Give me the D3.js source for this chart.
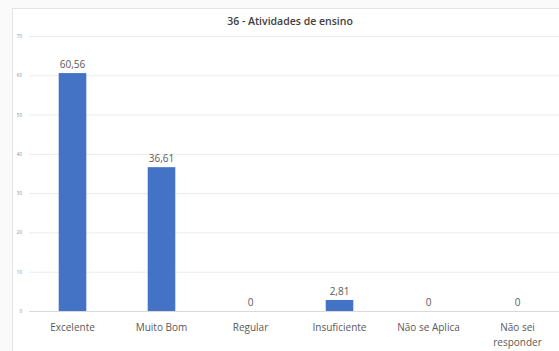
<!DOCTYPE html>
<html><head><meta charset="utf-8">
<script src="https://cdn.jsdelivr.net/npm/d3@7"></script>
<style>html,body{margin:0;padding:0;background:#fff;}svg{display:block;}</style>
</head><body>
<script>
const categories = ["Excelente","Muito Bom","Regular","Insuficiente","Não se Aplica","Não sei responder"];
const values = [60.56, 36.61, 0, 2.81, 0, 0];
const valueLabels = ["60,56","36,61","0","2,81","0","0"];
const yTicks = [0,10,20,30,40,50,60,70];
const title = "36 - Atividades de ensino";

const W = 559, H = 351;
const svg = d3.select("body").append("svg").attr("width", W).attr("height", H);
svg.append("rect").attr("x",0).attr("y",0).attr("width",W).attr("height",H).attr("fill","#fafafa");
svg.append("rect").attr("x",12.5).attr("y",8.5).attr("width",W).attr("height",H).attr("fill","#fff").attr("stroke","#e3e3e3");

const x = d3.scaleBand().domain(categories).range([28, 562]).paddingInner(0.69).paddingOuter(0.345);
const y = d3.scaleLinear().domain([0,70]).range([311, 36]);

const grid = svg.append("g");
grid.selectAll("line").data(yTicks).join("line")
  .attr("x1", 29).attr("x2", W).attr("y1", d=>y(d)+0.5).attr("y2", d=>y(d)+0.5)
  .attr("stroke", d=> d===0 ? "#d9d9d9" : "#ebebeb").attr("stroke-width",1);

const yAxis = svg.append("g").attr("transform","translate(22,0)")
  .call(d3.axisLeft(y).tickValues(yTicks).tickSize(0).tickPadding(0));
yAxis.select(".domain").remove();
yAxis.selectAll("text").attr("font-family","Open Sans, sans-serif").attr("font-size",4.5).attr("fill","#8c8c8c");

svg.append("g").selectAll("rect").data(values).join("rect")
  .attr("x",(d,i)=>x(categories[i])).attr("width",x.bandwidth())
  .attr("y",d=>y(d)).attr("height",d=>y(0)-y(d)).attr("fill","#4472C4");

svg.append("g").selectAll("text").data(values).join("text")
  .attr("x",(d,i)=>x(categories[i])+x.bandwidth()/2).attr("y",d=>y(d)-5)
  .attr("text-anchor","middle").attr("font-family","Open Sans, sans-serif").attr("font-size",10)
  .attr("fill","#595959").text((d,i)=>valueLabels[i]);

const xl = svg.append("g").selectAll("text").data(categories).join("text")
  .attr("x",d=>x(d)+x.bandwidth()/2).attr("y",331)
  .attr("text-anchor","middle").attr("font-family","Open Sans, sans-serif").attr("font-size",10)
  .attr("fill","#595959");
xl.each(function(d){
  const t = d3.select(this);
  if (d === "Não sei responder") {
    t.append("tspan").attr("x", x(d)+x.bandwidth()/2).attr("dy",0).text("Não sei");
    t.append("tspan").attr("x", x(d)+x.bandwidth()/2).attr("dy",15).text("responder");
  } else t.text(d);
});

svg.append("text").attr("x",290).attr("y",25).attr("text-anchor","middle")
  .attr("font-family","Open Sans, sans-serif").attr("font-size",10.5).attr("font-weight",600)
  .attr("fill","#404040").text(title);
</script>
</body></html>
